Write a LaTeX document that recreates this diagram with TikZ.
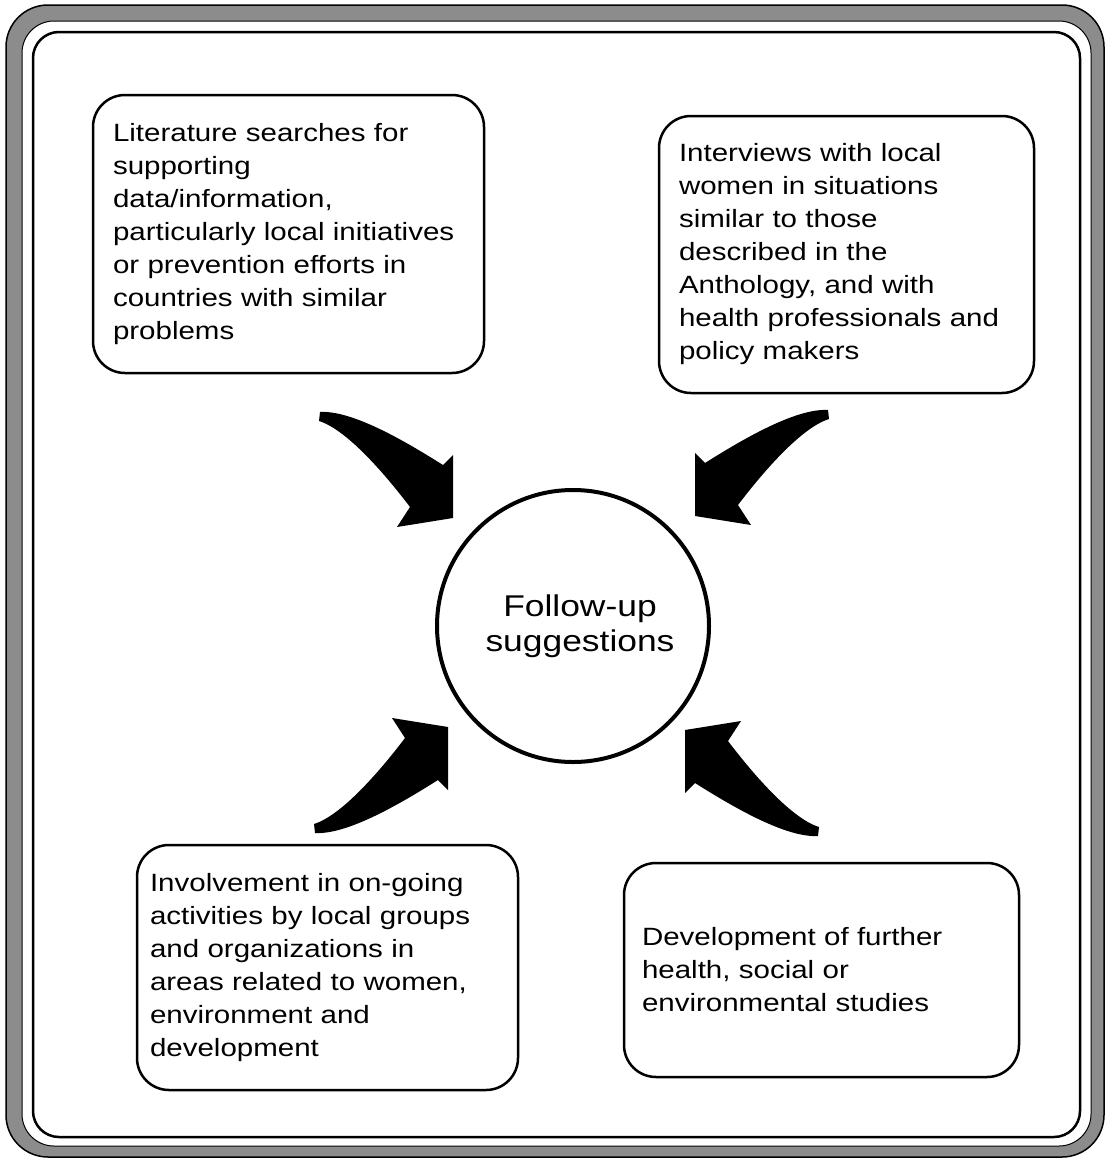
\documentclass[tikz,border=0pt]{standalone}
\usepackage{fontspec}
\setsansfont{Liberation Sans}[FakeStretch=1.18]
\newcommand{\bentarrow}[1]{%
    \path[bigarrow,#1]
        (0, 0) -- (-56, 9) -- (-43, -11)
        .. controls (-65, -40) and (-105, -88) .. (-134, -97) --
        (-133, -106) .. controls (-100, -108) and (-45, -75) ..
        (-10, -53) -- (0, -63) -- cycle;
}

\begin{document}
\begin{tikzpicture}
    [ x=1pt, y=-1pt,
      font={\sffamily},
      frameband/.style={fill=black!45, draw=black, line width=1.5pt,
                        rounded corners=42pt},
      framegap/.style={fill=white, draw=black, line width=1pt,
                       rounded corners=32pt},
      frameline/.style={draw=black, line width=2.5pt, rounded corners=26pt},
      idea/.style={draw, line width=2.5pt, rounded corners=32pt,
                   align=left, inner ysep=0pt,
                   font={\sffamily\fontsize{25}{33}\selectfont}},
      hub/.style={draw, circle, line width=4pt, minimum size=272pt},
      hublabel/.style={align=center,
                       font={\sffamily\fontsize{30}{35}\selectfont}},
      bigarrow/.style={fill=black}
    ]
    \useasboundingbox (0, 0) rectangle (1107, 1159);

    % Frame
    \path[frameband] (6, 5) rectangle (1104, 1157);
    \path[framegap] (22, 21) rectangle (1091, 1146);
    \path[frameline] (33, 32) rectangle (1080, 1137);

    % Suggestion boxes
    \node[idea, text width=351pt, inner xsep=20pt, minimum height=278pt]
        (litsearch) at (288.5, 234)
        {Literature searches for\\supporting\\data/information,\\
         particularly local initiatives\\or prevention efforts in\\
         countries with similar\\problems};
    \node[idea, text width=335pt, inner xsep=20pt, minimum height=277pt]
        (interviews) at (846.5, 254.5)
        {Interviews with local\\women in situations\\similar to those\\
         described in the\\Anthology, and with\\
         health professionals and\\policy makers};
    \node[idea, text width=355pt, inner xsep=13pt, minimum height=245pt]
        (involvement) at (327.5, 967.5)
        {Involvement in on-going\\activities by local groups\\
         and organizations in\\areas related to women,\\
         environment and\\development};
    \node[idea, text width=359pt, inner xsep=18pt, minimum height=214pt]
        (studies) at (821.5, 970)
        {Development of further\\health, social or\\
         environmental studies};

    % Centre
    \node[hub] (followup) at (573, 626) {};
    \node[hublabel] (followuptext) at ([xshift=7pt]followup.center)
        {Follow-up\\suggestions};

    % Arrows
    \bentarrow{shift={(453, 518)}}
    \bentarrow{shift={(695, 516)}, xscale=-1}
    \bentarrow{shift={(448, 727)}, yscale=-1}
    \bentarrow{shift={(685, 730)}, xscale=-1, yscale=-1}

\end{tikzpicture}
\end{document}
